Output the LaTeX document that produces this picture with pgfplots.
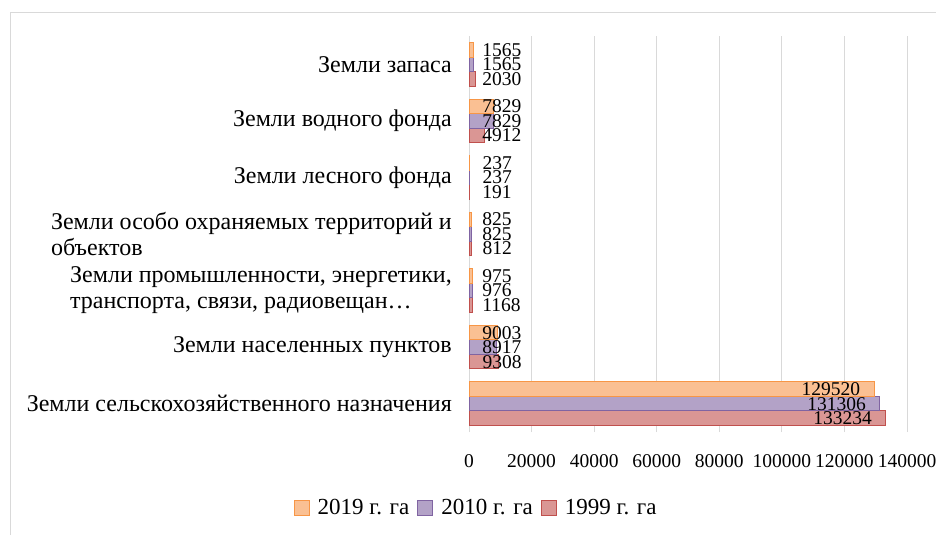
\documentclass[border=0pt]{standalone}
\usepackage{fontspec}
\setmainfont{Liberation Serif}
\usepackage{pgfplots}
\usepackage{pgfplotstable}
\pgfplotsset{compat=1.18}

\definecolor{orfill}{HTML}{FAC093}
\definecolor{ordraw}{HTML}{F79646}
\definecolor{pufill}{HTML}{B3A2C7}
\definecolor{pudraw}{HTML}{8064A2}
\definecolor{refill}{HTML}{DA9694}
\definecolor{redraw}{HTML}{C0504D}
\definecolor{gridc}{HTML}{D9D9D9}

% y = category (0 = bottom), val = area, sh = label shift
\pgfplotstableread{
y val sh
0 129520 -73
1 9003 -15.2
2 975 9.9
3 825 10.4
4 237 12.3
5 7829 -11.5
6 1565 8.1
}\tabA
\pgfplotstableread{
y val sh
0 131306 -73
1 8917 -14.9
2 976 9.9
3 825 10.4
4 237 12.3
5 7829 -11.5
6 1565 8.1
}\tabB
\pgfplotstableread{
y val sh
0 133234 -73
1 9308 -16.1
2 1168 9.3
3 812 10.5
4 191 12.4
5 4912 -2.4
6 2030 6.6
}\tabC

\begin{document}
\begin{tikzpicture}
\useasboundingbox (0,0) rectangle (936pt,535pt);
\draw[gridc, line width=1pt] (10pt,0) -- (10pt,522pt) -- (940pt,522pt);
\begin{axis}[
    at={(469pt,103pt)}, anchor=south west,
    scale only axis,
    width=438pt, height=396pt,
    xbar=0pt,
    bar width=14.5pt,
    xmin=0, xmax=140000,
    ymin=-0.5, ymax=6.5,
    xtick={0,20000,...,140000},
    ytick={0,...,6},
    yticklabels={
      Земли сельскохозяйственного назначения,
      Земли населенных пунктов,
      {Земли промышленности, энергетики,\\транспорта, связи, радиовещан…},
      {Земли особо охраняемых территорий и\\объектов},
      Земли лесного фонда,
      Земли водного фонда,
      Земли запаса},
    scaled x ticks=false,
    /pgf/number format/fixed,
    /pgf/number format/precision=0,
    /pgf/number format/1000 sep={},
    /pgf/number format/assume math mode=true,
    xmajorgrids, grid style={gridc, line width=1pt},
    major tick length=0pt,
    separate axis lines,
    x axis line style={draw=none},
    y axis line style={draw=gridc, line width=1pt},
    tick label style={inner sep=0pt},
    xticklabel style={yshift=-22pt, font=\fontsize{19.5}{23}\selectfont},
    yticklabel style={align=left, xshift=-17pt, font=\fontsize{24}{26}\selectfont},
    point meta=explicit,
    nodes near coords,
    visualization depends on={\thisrow{sh} \as \sh},
    every node near coord/.append style={anchor=west, inner sep=0pt,
      xshift=\sh pt, font=\fontsize{19.5}{23}\selectfont, text=black},
    reverse legend,
    legend style={at={(axis description cs:0.014,-0.192)}, anchor=center,
      draw=none, legend columns=-1,
      font=\fontsize{23}{26}\selectfont,
      nodes={inner sep=0pt},
      /tikz/every even column/.append style={column sep=8pt},
      /tikz/every odd column/.append style={column sep=8pt}},
    legend image code/.code={\draw[#1] (0pt,-7.5pt) rectangle (15pt,7.5pt);},
  ]
\addplot[fill=refill, draw=redraw, line width=1pt] table[x=val, y=y, meta=val] {\tabC};
\addplot[fill=pufill, draw=pudraw, line width=1pt] table[x=val, y=y, meta=val] {\tabB};
\addplot[fill=orfill, draw=ordraw, line width=1pt] table[x=val, y=y, meta=val] {\tabA};
\legend{1999 г. га, 2010 г. га, 2019 г. га}
\end{axis}
\end{tikzpicture}
\end{document}
